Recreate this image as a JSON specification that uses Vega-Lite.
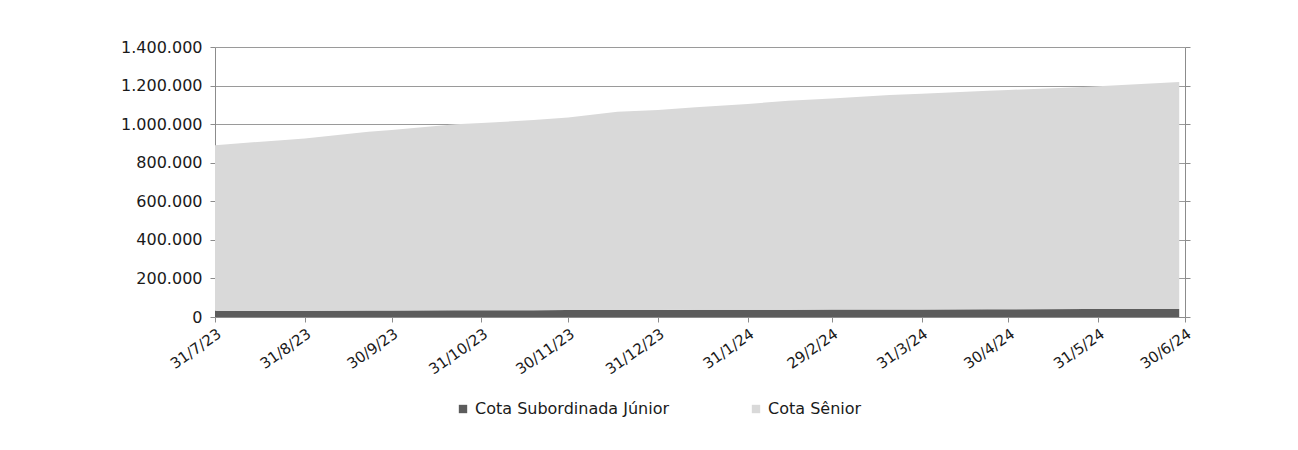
{
  "$schema": "https://vega.github.io/schema/vega-lite/v6.json",
  "autosize": {"type": "none"},
  "width": 970,
  "height": 270,
  "padding": {"left": 215, "top": 47, "right": 113, "bottom": 133},
  "background": "white",
  "config": {
    "locale": {
      "number": {"decimal": ",", "thousands": ".", "grouping": [3], "currency": ["R$", ""]},
      "time": {
        "dateTime": "%A, %e de %B de %Y. %X", "date": "%d/%m/%Y", "time": "%H:%M:%S",
        "periods": ["AM", "PM"],
        "days": ["Domingo", "Segunda", "Terça", "Quarta", "Quinta", "Sexta", "Sábado"],
        "shortDays": ["Dom", "Seg", "Ter", "Qua", "Qui", "Sex", "Sáb"],
        "months": ["Janeiro", "Fevereiro", "Março", "Abril", "Maio", "Junho", "Julho", "Agosto", "Setembro", "Outubro", "Novembro", "Dezembro"],
        "shortMonths": ["Jan", "Fev", "Mar", "Abr", "Mai", "Jun", "Jul", "Ago", "Set", "Out", "Nov", "Dez"]
      }
    },
    "view": {"stroke": null},
    "font": "DejaVu Sans",
    "axis": {
      "labelFont": "DejaVu Sans",
      "labelColor": "#1a1a1a",
      "domainColor": "#8c8c8c",
      "tickColor": "#8c8c8c",
      "gridColor": "#9a9a9a",
      "title": null
    }
  },
  "data": {
    "values": [
      {"data": "2023-07-31", "serie": "Cota Subordinada Júnior", "valor": 32000},
      {"data": "2023-08-23", "serie": "Cota Subordinada Júnior", "valor": 32600},
      {"data": "2023-08-31", "serie": "Cota Subordinada Júnior", "valor": 32900},
      {"data": "2023-09-22", "serie": "Cota Subordinada Júnior", "valor": 33600},
      {"data": "2023-09-30", "serie": "Cota Subordinada Júnior", "valor": 33900},
      {"data": "2023-10-22", "serie": "Cota Subordinada Júnior", "valor": 34600},
      {"data": "2023-10-31", "serie": "Cota Subordinada Júnior", "valor": 34900},
      {"data": "2023-11-18", "serie": "Cota Subordinada Júnior", "valor": 35400},
      {"data": "2023-11-30", "serie": "Cota Subordinada Júnior", "valor": 35800},
      {"data": "2023-12-17", "serie": "Cota Subordinada Júnior", "valor": 36300},
      {"data": "2023-12-31", "serie": "Cota Subordinada Júnior", "valor": 36700},
      {"data": "2024-01-13", "serie": "Cota Subordinada Júnior", "valor": 37100},
      {"data": "2024-01-31", "serie": "Cota Subordinada Júnior", "valor": 37600},
      {"data": "2024-02-14", "serie": "Cota Subordinada Júnior", "valor": 38000},
      {"data": "2024-02-29", "serie": "Cota Subordinada Júnior", "valor": 38500},
      {"data": "2024-03-20", "serie": "Cota Subordinada Júnior", "valor": 39100},
      {"data": "2024-03-31", "serie": "Cota Subordinada Júnior", "valor": 39400},
      {"data": "2024-04-23", "serie": "Cota Subordinada Júnior", "valor": 40100},
      {"data": "2024-04-30", "serie": "Cota Subordinada Júnior", "valor": 40300},
      {"data": "2024-05-28", "serie": "Cota Subordinada Júnior", "valor": 41200},
      {"data": "2024-05-31", "serie": "Cota Subordinada Júnior", "valor": 41300},
      {"data": "2024-06-28", "serie": "Cota Subordinada Júnior", "valor": 42000},
      {"data": "2023-07-31", "serie": "Cota Sênior", "valor": 859000},
      {"data": "2023-08-23", "serie": "Cota Sênior", "valor": 884400},
      {"data": "2023-08-31", "serie": "Cota Sênior", "valor": 893100},
      {"data": "2023-09-22", "serie": "Cota Sênior", "valor": 926400},
      {"data": "2023-09-30", "serie": "Cota Sênior", "valor": 936100},
      {"data": "2023-10-22", "serie": "Cota Sênior", "valor": 965400},
      {"data": "2023-10-31", "serie": "Cota Sênior", "valor": 971100},
      {"data": "2023-11-18", "serie": "Cota Sênior", "valor": 985600},
      {"data": "2023-11-30", "serie": "Cota Sênior", "valor": 999200},
      {"data": "2023-12-17", "serie": "Cota Sênior", "valor": 1027700},
      {"data": "2023-12-31", "serie": "Cota Sênior", "valor": 1036300},
      {"data": "2024-01-13", "serie": "Cota Sênior", "valor": 1049900},
      {"data": "2024-01-31", "serie": "Cota Sênior", "valor": 1067400},
      {"data": "2024-02-14", "serie": "Cota Sênior", "valor": 1083000},
      {"data": "2024-02-29", "serie": "Cota Sênior", "valor": 1094500},
      {"data": "2024-03-20", "serie": "Cota Sênior", "valor": 1111900},
      {"data": "2024-03-31", "serie": "Cota Sênior", "valor": 1118600},
      {"data": "2024-04-23", "serie": "Cota Sênior", "valor": 1132900},
      {"data": "2024-04-30", "serie": "Cota Sênior", "valor": 1136700},
      {"data": "2024-05-28", "serie": "Cota Sênior", "valor": 1152800},
      {"data": "2024-05-31", "serie": "Cota Sênior", "valor": 1155700},
      {"data": "2024-06-28", "serie": "Cota Sênior", "valor": 1177000}
    ]
  },
  "layer": [
    {
      "mark": {"type": "area", "interpolate": "linear"},
      "encoding": {
        "x": {
          "field": "data",
          "type": "temporal",
          "scale": {
            "type": "utc",
            "domain": [
              {"year": 2023, "month": 7, "date": 31, "utc": true},
              {"year": 2024, "month": 6, "date": 30, "utc": true}
            ]
          },
          "axis": {
            "values": [
              {"year": 2023, "month": 7, "date": 31, "utc": true},
              {"year": 2023, "month": 8, "date": 31, "utc": true},
              {"year": 2023, "month": 9, "date": 30, "utc": true},
              {"year": 2023, "month": 10, "date": 31, "utc": true},
              {"year": 2023, "month": 11, "date": 30, "utc": true},
              {"year": 2023, "month": 12, "date": 31, "utc": true},
              {"year": 2024, "month": 1, "date": 31, "utc": true},
              {"year": 2024, "month": 2, "date": 29, "utc": true},
              {"year": 2024, "month": 3, "date": 31, "utc": true},
              {"year": 2024, "month": 4, "date": 30, "utc": true},
              {"year": 2024, "month": 5, "date": 31, "utc": true},
              {"year": 2024, "month": 6, "date": 30, "utc": true}
            ],
            "format": "%-d/%-m/%y",
            "labelAngle": -35,
            "labelAlign": "right",
            "labelBaseline": "top",
            "labelFontSize": 15,
            "labelOverlap": false,
            "labelBound": false,
            "labelFlush": false,
            "labelPadding": 4,
            "tickSize": 5,
            "grid": false,
            "domainColor": "#8c8c8c"
          }
        },
        "y": {
          "field": "valor",
          "type": "quantitative",
          "stack": "zero",
          "scale": {"domain": [0, 1400000], "nice": false},
          "axis": {
            "values": [0, 200000, 400000, 600000, 800000, 1000000, 1200000, 1400000],
            "format": ",d",
            "labelFontSize": 16,
            "labelPadding": 8,
            "tickSize": 5,
            "grid": true,
            "gridWidth": 1
          }
        },
        "color": {
          "field": "serie",
          "type": "nominal",
          "sort": ["Cota Subordinada Júnior", "Cota Sênior"],
          "scale": {
            "domain": ["Cota Subordinada Júnior", "Cota Sênior"],
            "range": ["#5c5c5c", "#d9d9d9"]
          },
          "legend": {
            "title": null,
            "orient": "none",
            "direction": "horizontal",
            "legendX": 240,
            "legendY": 354,
            "symbolType": "square",
            "symbolSize": 70,
            "symbolStrokeWidth": 0,
            "symbolOpacity": 1,
            "labelFont": "DejaVu Sans",
            "labelFontSize": 16,
            "labelColor": "#1a1a1a",
            "labelLimit": 0,
            "labelOffset": 4,
            "columnPadding": 78
          }
        },
        "order": {"field": "serie", "sort": "ascending"}
      }
    },
    {
      "mark": {"type": "rule", "opacity": 0},
      "encoding": {
        "y": {
          "datum": 0,
          "type": "quantitative",
          "scale": {"domain": [0, 1400000], "nice": false},
          "axis": {
            "orient": "right",
            "values": [0, 200000, 400000, 600000, 800000, 1000000, 1200000, 1400000],
            "labels": false,
            "grid": false,
            "tickSize": 5
          }
        }
      }
    }
  ],
  "resolve": {"axis": {"y": "independent"}}
}
